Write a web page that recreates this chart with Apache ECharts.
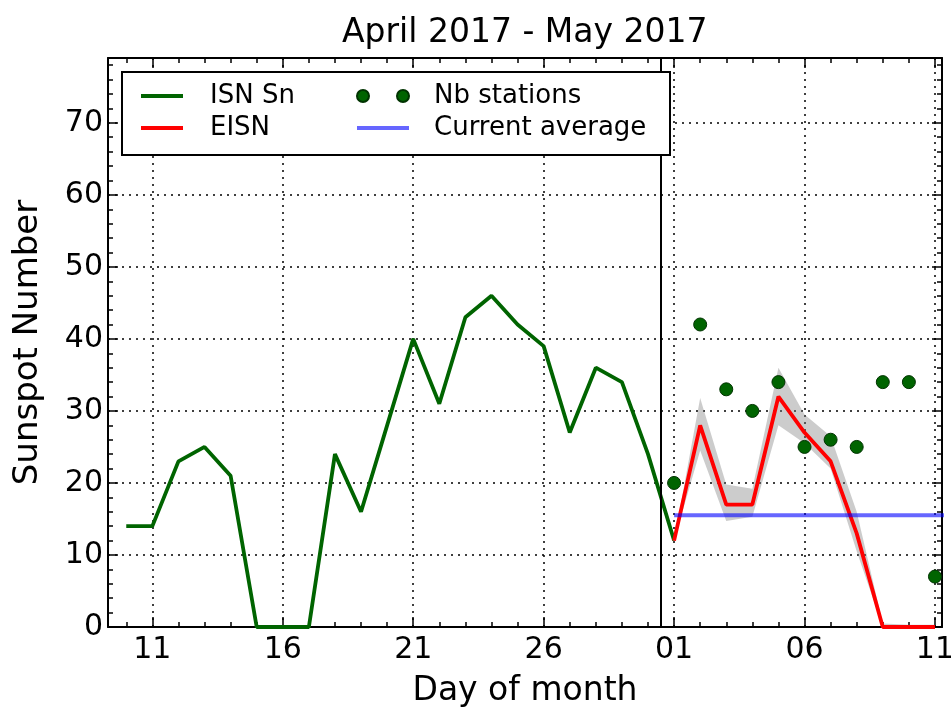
<!DOCTYPE html>
<html>
<head>
<meta charset="utf-8">
<script src="https://cdn.jsdelivr.net/npm/echarts@6/dist/echarts.min.js"></script>
<style>
	html, body { margin: 0; padding: 0; background: #fff; }
	#chart { width: 951px; height: 709px; }
</style>
</head>
<body>
<div id="chart"></div>
<script>
// jours : avril = 1..30, mai = 31..41
var isnDays = [10, 11, 12, 13, 14, 15, 16, 17, 18, 19, 20, 21, 22, 23, 24, 25, 26, 27, 28, 29, 30, 31];
var isnValues = [14, 14, 23, 25, 21, 0, 0, 0, 24, 16, 28, 40, 31, 43, 46, 42, 39, 27, 36, 34, 24, 12];

var mayDays = [31, 32, 33, 34, 35, 36, 37, 38, 39, 40, 41];
var eisnValues = [12, 28, 17, 17, 32, 27, 23, 13, 0, 0, 0];
var eisnLow = [12, 24.5, 14.7, 15.3, 28, 25.5, 22, 10.5, 0, 0, 0];
var eisnHigh = [12, 31.8, 19.8, 19.2, 36, 29.5, 26.5, 16, 0.5, 0.3, 0.3];
var nbStations = [20, 42, 33, 30, 34, 25, 26, 25, 34, 34, 7];

var avgDays = [31, 42];
var avgValue = 15.5;
var monthBreak = 30.5;

var xTickValues = [11, 16, 21, 26, 31, 36, 41];
var xTickLabels = ['11', '16', '21', '26', '01', '06', '11'];
var xMin = 9.3;
var xMax = 41.27;
var yMin = 0;
var yMax = 79;

var font = 'DejaVu Sans';

function pairs(xs, ys) {
	var out = [];
	for (var i = 0; i < xs.length; i++) {
		out.push([xs[i], ys[i]]);
	}
	return out;
}

function $extend(a, b) {
	var o = {};
	for (var k in a) o[k] = a[k];
	for (var k2 in b) o[k2] = b[k2];
	return o;
}

//petites graduations
var xMinor = [];
for (var d = 10; d <= 41; d++) xMinor.push(d);
var yMinor = [];
for (var v = 0; v <= 78; v += 2) yMinor.push(v);

var gridDots = {
	color: '#000',
	width: 1.5,
	type: [2, 5]
};

function mainX(pos, labels) {
	return {
		type: 'value',
		position: pos,
		min: xMin,
		max: xMax,
		axisLine: { show: true, onZero: false, lineStyle: { color: '#000', width: 2 } },
		axisTick: { show: true, inside: true, length: 10, customValues: xTickValues, lineStyle: { color: '#000', width: 1.5 } },
		axisLabel: {
			show: labels,
			customValues: xTickValues,
			margin: 8,
			color: '#000',
			fontSize: 30,
			fontFamily: font,
			formatter: function(val) {
				var k = xTickValues.indexOf(Math.round(val));
				return k >= 0 ? xTickLabels[k] : '';
			}
		},
		splitLine: { show: labels, lineStyle: gridDots }
	};
}

function minorX(pos) {
	return {
		type: 'value',
		position: pos,
		min: xMin,
		max: xMax,
		axisLine: { show: false, onZero: false },
		axisTick: { show: true, inside: true, length: 5, customValues: xMinor, lineStyle: { color: '#000', width: 1.5 } },
		axisLabel: { show: false },
		splitLine: { show: false }
	};
}

function mainY(pos, labels) {
	return {
		type: 'value',
		position: pos,
		min: yMin,
		max: yMax,
		interval: 10,
		axisLine: { show: true, onZero: false, lineStyle: { color: '#000', width: 2 } },
		axisTick: { show: true, inside: true, length: 10, lineStyle: { color: '#000', width: 1.5 } },
		axisLabel: {
			show: labels,
			showMaxLabel: false,
			margin: 5,
			color: '#000',
			fontSize: 30,
			fontFamily: font
		},
		splitLine: { show: labels, lineStyle: gridDots }
	};
}

function minorY(pos) {
	return {
		type: 'value',
		position: pos,
		min: yMin,
		max: yMax,
		axisLine: { show: false, onZero: false },
		axisTick: { show: true, inside: true, length: 5, customValues: yMinor, lineStyle: { color: '#000', width: 1.5 } },
		axisLabel: { show: false },
		splitLine: { show: false }
	};
}

var xBottom = mainX('bottom', true);
xBottom.name = 'Day of month';
xBottom.nameLocation = 'middle';
xBottom.nameGap = 48;
xBottom.nameTextStyle = { color: '#000', fontSize: 33, fontFamily: font };

var yLeft = mainY('left', true);
yLeft.name = 'Sunspot Number';
yLeft.nameLocation = 'middle';
yLeft.nameGap = 63;
yLeft.nameTextStyle = { color: '#000', fontSize: 34, fontFamily: font };

var legendText = {
	color: '#000',
	fontSize: 26,
	fontFamily: font,
	lineHeight: 30
};

var chart = echarts.init(document.getElementById('chart'));
var option = {
	animation: false,
	backgroundColor: '#fff',
	title: {
		text: 'April 2017 - May 2017',
		left: 342,
		top: 17,
		padding: 0,
		textStyle: { color: '#000', fontSize: 33, fontWeight: 'normal', fontFamily: font }
	},
	grid: {
		left: 108,
		right: 9,
		top: 58,
		bottom: 82,
		outerBoundsMode: 'none'
	},
	graphic: [{
		type: 'rect',
		z: 100,
		shape: { x: 122, y: 72, width: 548, height: 83 },
		style: { fill: '#fff', stroke: '#000', lineWidth: 2 }
	}],
	legend: [{
		orient: 'vertical',
		left: 139,
		top: 81,
		padding: 0,
		z: 101,
		itemWidth: 42,
		itemHeight: 12,
		itemGap: 2,
		itemStyle: { opacity: 0 },
		lineStyle: { width: 4 },
		textStyle: $extend(legendText, { padding: [0, 0, 0, 22] }),
		data: ['ISN Sn', 'EISN']
	}, {
		orient: 'vertical',
		left: 355,
		top: 81,
		padding: 0,
		z: 101,
		itemWidth: 52,
		itemHeight: 12,
		itemGap: 2,
		lineStyle: { width: 4 },
		textStyle: $extend(legendText, { padding: [0, 0, 0, 20] }),
		data: [{
			name: 'Nb stations',
			icon: 'path://M0,6a6,6 0 1,0 12,0a6,6 0 1,0 -12,0M40,6a6,6 0 1,0 12,0a6,6 0 1,0 -12,0'
		}, {
			name: 'Current average',
			itemStyle: { opacity: 0 }
		}]
	}],
	xAxis: [xBottom, mainX('top', false), minorX('bottom'), minorX('top')],
	yAxis: [yLeft, mainY('right', false), minorY('left'), minorY('right')],
	series: [{
		//bande d'incertitude grise autour de EISN
		name: 'band',
		type: 'custom',
		silent: true,
		data: pairs(mayDays, eisnValues),
		renderItem: function(params, api) {
			if (params.dataIndex !== 0) return;
			var pts = [];
			for (var i = 0; i < mayDays.length; i++) {
				pts.push(api.coord([mayDays[i], eisnHigh[i]]));
			}
			for (var j = mayDays.length - 1; j >= 0; j--) {
				pts.push(api.coord([mayDays[j], eisnLow[j]]));
			}
			return {
				type: 'polygon',
				shape: { points: pts },
				style: { fill: 'rgba(128,128,128,0.4)' }
			};
		},
		z: 1
	}, {
		name: 'ISN Sn',
		type: 'line',
		symbol: 'none',
		color: '#006400',
		lineStyle: { color: '#006400', width: 3.8 },
		data: pairs(isnDays, isnValues),
		markLine: {
			silent: true,
			symbol: 'none',
			label: { show: false },
			lineStyle: { color: '#000', width: 2, type: 'solid' },
			data: [{ xAxis: monthBreak }]
		},
		z: 3
	}, {
		name: 'EISN',
		type: 'line',
		symbol: 'none',
		color: '#ff0000',
		lineStyle: { color: '#ff0000', width: 3.8 },
		data: pairs(mayDays, eisnValues),
		z: 3
	}, {
		name: 'Current average',
		type: 'line',
		symbol: 'none',
		color: 'rgba(0,0,255,0.6)',
		lineStyle: { color: 'rgba(0,0,255,0.6)', width: 4 },
		data: pairs(avgDays, [avgValue, avgValue]),
		z: 4
	}, {
		name: 'Nb stations',
		type: 'scatter',
		symbol: 'circle',
		symbolSize: 13,
		color: '#006400',
		itemStyle: { color: '#006400', opacity: 1, borderColor: '#003300', borderWidth: 1 },
		data: pairs(mayDays, nbStations),
		z: 5
	}]
};

chart.setOption(option);
</script>
</body>
</html>
